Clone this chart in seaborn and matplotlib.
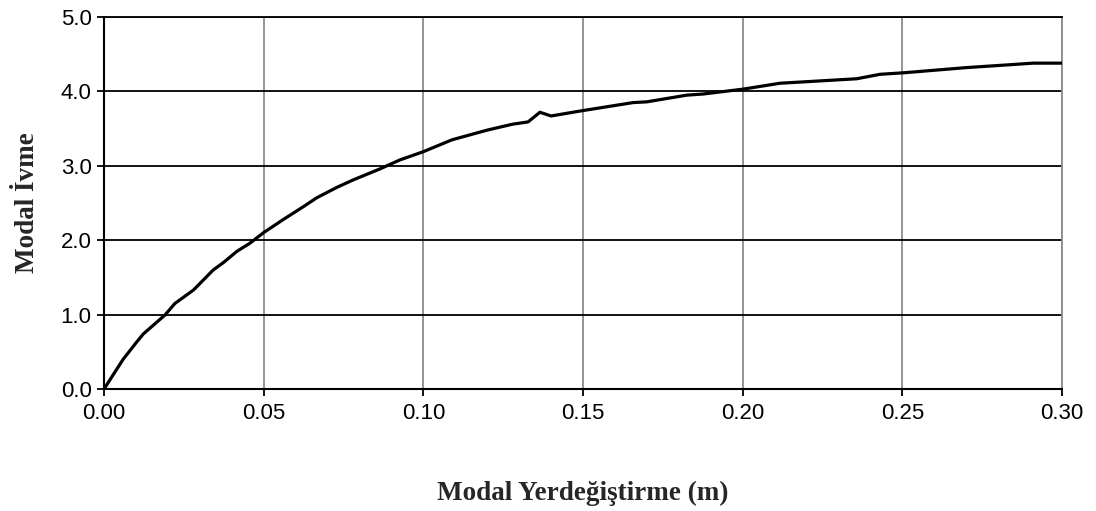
import matplotlib
matplotlib.use("Agg")
import matplotlib.pyplot as plt
import seaborn as sns
import pandas as pd

# Capacity curve: modal displacement (m) vs modal acceleration
displacement = [0.0, 0.003, 0.006, 0.0102, 0.0123, 0.0191, 0.0222, 0.028,
                0.0311, 0.0342, 0.0374, 0.0416, 0.0457, 0.0499, 0.0562, 0.0624,
                0.0666, 0.0729, 0.078, 0.0865, 0.0927, 0.100, 0.109, 0.120,
                0.128, 0.1328, 0.1365, 0.140, 0.1496, 0.1657, 0.170, 0.1825,
                0.1876, 0.200, 0.2117, 0.2357, 0.243, 0.2503, 0.270, 0.2806,
                0.291, 0.300]
acceleration = [0.0, 0.20, 0.40, 0.63, 0.74, 0.995, 1.15, 1.33,
                1.465, 1.60, 1.70, 1.85, 1.96, 2.10, 2.28, 2.45,
                2.57, 2.71, 2.81, 2.96, 3.08, 3.19, 3.35, 3.48,
                3.56, 3.59, 3.72, 3.67, 3.74, 3.85, 3.86, 3.95,
                3.965, 4.03, 4.11, 4.17, 4.23, 4.25, 4.32, 4.35,
                4.38, 4.38]

x_ticks = [0.00, 0.05, 0.10, 0.15, 0.20, 0.25, 0.30]
y_ticks = [0.0, 1.0, 2.0, 3.0, 4.0, 5.0]

df = pd.DataFrame({"disp": displacement, "acc": acceleration})

sns.set_style("white")
plt.rcParams["font.family"] = ["Liberation Sans", "DejaVu Sans"]

fig = plt.figure(figsize=(10.96, 5.11), dpi=100)
ax = fig.add_axes([0.0949, 0.2387, 0.969 - 0.0949, 0.9667 - 0.2387])

sns.lineplot(data=df, x="disp", y="acc", ax=ax, color="black", linewidth=2.3,
             sort=False, estimator=None, zorder=3)

ax.set_xlim(0, 0.30)
ax.set_ylim(0, 5.0)
ax.set_xticks(x_ticks)
ax.set_yticks(y_ticks)
ax.set_xticklabels([f"{v:.2f}" for v in x_ticks])
ax.set_yticklabels([f"{v:.1f}" for v in y_ticks])

# vertical grid in gray, horizontal grid in black
for v in x_ticks[1:]:
    ax.axvline(v, color="#8c8c8c", linewidth=1.3, zorder=1)
for v in y_ticks[1:]:
    ax.axhline(v, color="black", linewidth=1.3, zorder=1)

for side in ["left", "bottom"]:
    ax.spines[side].set_color("black")
    ax.spines[side].set_linewidth(1.5)
ax.spines["top"].set_color("black")
ax.spines["top"].set_linewidth(1.3)
ax.spines["right"].set_color("#8c8c8c")
ax.spines["right"].set_linewidth(1.3)

ax.tick_params(axis="both", which="major", direction="out", length=5, width=1.3,
               color="black", labelsize=16, colors="black")
ax.tick_params(axis="x", pad=5)
ax.tick_params(axis="y", pad=4)
ax.tick_params(left=True, bottom=True)

serif_bold = dict(family=["Liberation Serif", "DejaVu Serif"], weight="bold", size=19.5)
ax.set_xlabel("Modal Yerdeğiştirme (m)", **serif_bold)
ax.set_ylabel("Modal İvme", **serif_bold)
ax.xaxis.set_label_coords(0.5, -0.28)
ax.xaxis.label.set_va("center")
ax.yaxis.set_label_coords(-0.08, 0.5)
ax.yaxis.label.set_va("center")
ax.yaxis.label.set_ha("center")

fig.savefig("out.png", dpi=100)
